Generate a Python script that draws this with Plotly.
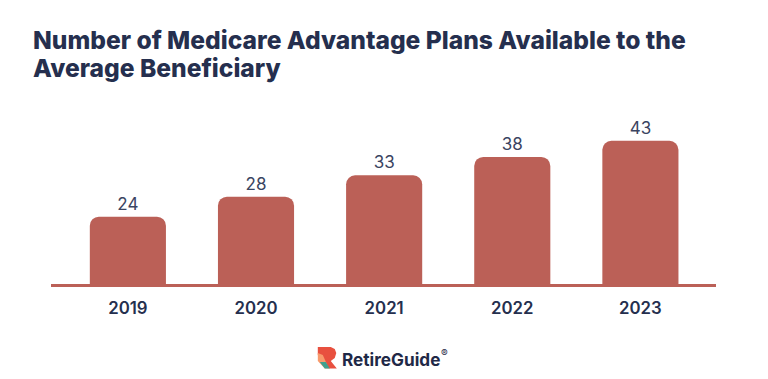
import plotly.graph_objects as go

years = ["2019", "2020", "2021", "2022", "2023"]
plans = [24, 28, 33, 38, 43]
title_lines = ["Number of Medicare Advantage Plans Available to the", "Average Beneficiary"]

NAVY = "#252f4e"
BAR = "#bb6057"

# The page body adds an 8 px margin, so the figure is 8 px smaller and layout is offset.
OFF = 8
L, R, T, B = 51 - OFF, 716.5 - OFF, 100 - OFF, 284 - OFF
def px(x): return (x - OFF - L) / (R - L)
def py(y): return (B - (y - OFF)) / (B - T)

def logo_path(points):
    return "M " + " L ".join(f"{px(x):.4f} {py(y):.4f}" for x, y in points) + " Z"

logo_red = [(318, 347), (331, 347), (335, 349), (336.5, 353), (335, 358), (331, 361), (337, 368.5), (329, 368.5), (323, 361), (318, 355)]
logo_orange = [(318, 353), (323, 355), (329, 368.5), (325, 368.5), (318, 361)]
logo_teal = [(320, 362), (326, 362), (330, 368.5), (325, 368.5)]

fig = go.Figure(go.Bar(
    x=years, y=plans, width=0.594,
    marker=dict(color=BAR, line_width=0, cornerradius=9),
    text=[str(v) for v in plans], textposition="outside", cliponaxis=False,
    textfont=dict(family="Inter", size=17, color="#3a4461"),
    hoverinfo="skip",
))

fig.update_layout(
    width=760, height=371, autosize=False,
    margin=dict(l=L, r=760 - R, t=T, b=371 - B),
    paper_bgcolor="white", plot_bgcolor="white",
    showlegend=False,
    font=dict(family="Inter", color=NAVY),
    xaxis=dict(
        type="category", range=[-0.6, 4.59], showgrid=False,
        showline=True, linecolor=BAR, linewidth=3,
        ticks="outside", ticklen=7, tickcolor="rgba(0,0,0,0)",
        tickfont=dict(family="Inter", size=16.8, weight=600, color=NAVY),
    ),
    yaxis=dict(type="log", range=[1.1553, 1.77], visible=False),
    shapes=[
        dict(type="path", xref="paper", yref="paper", line_width=0, fillcolor="#e8503f", path=logo_path(logo_red)),
        dict(type="path", xref="paper", yref="paper", line_width=0, fillcolor="#f89a6c", path=logo_path(logo_orange)),
        dict(type="path", xref="paper", yref="paper", line_width=0, fillcolor="#3fa08f", path=logo_path(logo_teal)),
    ],
    annotations=[
        dict(text=title_lines[0], xref="paper", yref="paper", x=px(30.5), y=py(40),
             xanchor="left", yanchor="middle", showarrow=False,
             font=dict(family="Inter", size=24.6, weight=800, color=NAVY)),
        dict(text=title_lines[1], xref="paper", yref="paper", x=px(30.5), y=py(68),
             xanchor="left", yanchor="middle", showarrow=False,
             font=dict(family="Inter", size=24.6, weight=800, color=NAVY)),
        dict(text="RetireGuide", xref="paper", yref="paper", x=px(340.5), y=py(359),
             xanchor="left", yanchor="middle", showarrow=False,
             font=dict(family="Inter", size=17.2, weight=700, color="#1f2947")),
        dict(text="®", xref="paper", yref="paper", x=px(439.5), y=py(353),
             xanchor="left", yanchor="middle", showarrow=False,
             font=dict(family="Inter", size=10, color="#1f2947")),
    ],
)
fig.write_html("out.html")
